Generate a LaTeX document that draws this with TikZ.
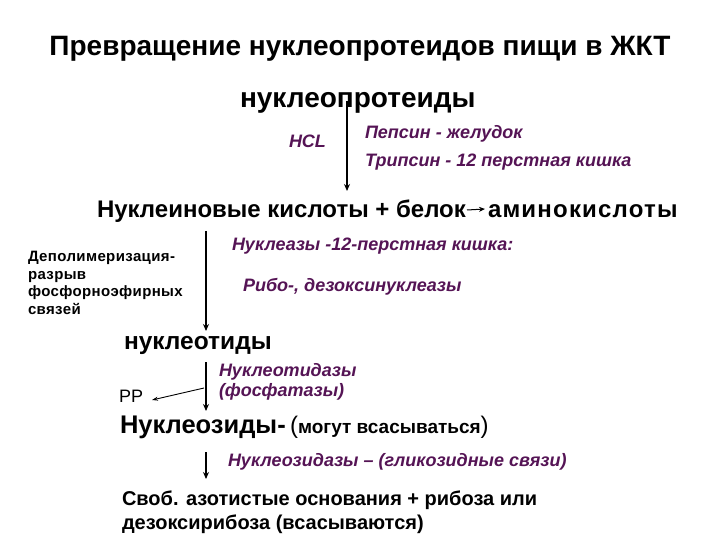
\documentclass[tikz,border=0pt]{standalone}
\usepackage{fontspec}
\setmainfont{Liberation Sans}
\usetikzlibrary{arrows.meta}
\definecolor{enz}{RGB}{85,20,85}
\begin{document}
\begin{tikzpicture}[x=1pt,y=-1pt,
  every node/.style={inner sep=0pt,outer sep=0pt},
  bigb/.style={font=\fontsize{28}{32}\selectfont\bfseries},
  midb/.style={font=\fontsize{24}{28}\selectfont\bfseries},
  enzt/.style={text=enz,font=\fontsize{18}{22}\selectfont\bfseries\itshape},
  smallt/.style={font=\fontsize{15}{17.7}\selectfont\bfseries\addfontfeatures{LetterSpace=2.5}},
  lowt/.style={font=\fontsize{20}{24}\selectfont\bfseries},
  thick arrow/.style={line width=1.6pt,-{Stealth[length=7pt,width=6pt]}},
  thin arrow/.style={line width=0.9pt,-{Stealth[length=6pt,width=4pt]}}]
\useasboundingbox (0,0) rectangle (720,540);
\fill[white] (0,0) rectangle (720,540);
\node[bigb,anchor=base] (title) at (360,56) {Превращение нуклеопротеидов пищи в ЖКТ};
\node[bigb,anchor=base west] (np) at (240,108) {нуклеопротеиды};
\node[enzt,anchor=base west] (hcl) at (289,148) {HCL};
\node[enzt,anchor=base west] (peps) at (365,139) {Пепсин - желудок};
\node[enzt,anchor=base west] (trip) at (365,167) {Трипсин - 12 перстная кишка};
\node[midb,anchor=base west] (nk) at (97,218) {Нуклеиновые кислоты + белок};
\node[midb,font=\fontsize{24}{28}\selectfont\bfseries\addfontfeatures{LetterSpace=5},anchor=base west] (ak) at (488,218) {аминокислоты};
\node[smallt,anchor=north west,align=left] (dep) at (28,251) {Деполимеризация-\\разрыв\\фосфорноэфирных\\связей};
\node[enzt,anchor=base west] (nucl) at (232,251) {Нуклеазы -12-перстная кишка:};
\node[enzt,anchor=base west] (ribo) at (243,291) {Рибо-, дезоксинуклеазы};
\node[midb,font=\fontsize{24.5}{28}\selectfont\bfseries,anchor=base west] (nt) at (124,349) {нуклеотиды};
\node[enzt,anchor=base west] (ntd) at (219,376) {Нуклеотидазы};
\node[enzt,anchor=base west] (fosf) at (219,396) {(фосфатазы)};
\node[font=\fontsize{18}{20}\selectfont,anchor=base west] (pp) at (119,402) {PP};
\node[anchor=base west] (ns) at (120,433) {{\fontsize{25.5}{28}\selectfont\bfseries Нуклеозиды-\,}{\fontsize{24}{26}\selectfont(}{\fontsize{19}{22}\selectfont\bfseries могут всасываться}{\fontsize{24}{26}\selectfont)}};
\node[enzt,anchor=base west] (nsd) at (228,466) {Нуклеозидазы – (гликозидные связи)};
\node[lowt,anchor=north west,align=left] (free) at (122,491) {Своб. азотистые основания + рибоза или\\дезоксирибоза (всасываются)};
% connectors
\coordinate (a1s) at (347,101);
\coordinate (a1e) at (347,191);
\draw[thick arrow] (a1s) -- (a1e);
\coordinate (bel) at (467,210);
\coordinate (bel2) at (485,209);
\draw[line width=1pt,-{Stealth[length=6pt,width=5pt]}] (bel) -- (bel2);
\coordinate (a2s) at (206,231);
\coordinate (a2e) at (206,331);
\draw[thick arrow] (a2s) -- (a2e);
\coordinate (a3s) at (206,362);
\coordinate (a3e) at (206,411);
\draw[thick arrow] (a3s) -- (a3e);
\coordinate (ppb) at (204,388);
\coordinate (ppe) at (152,400);
\draw[thin arrow] (ppb) -- (ppe);
\coordinate (a4s) at (206,452);
\coordinate (a4e) at (206,479);
\draw[thick arrow] (a4s) -- (a4e);
\end{tikzpicture}
\end{document}
